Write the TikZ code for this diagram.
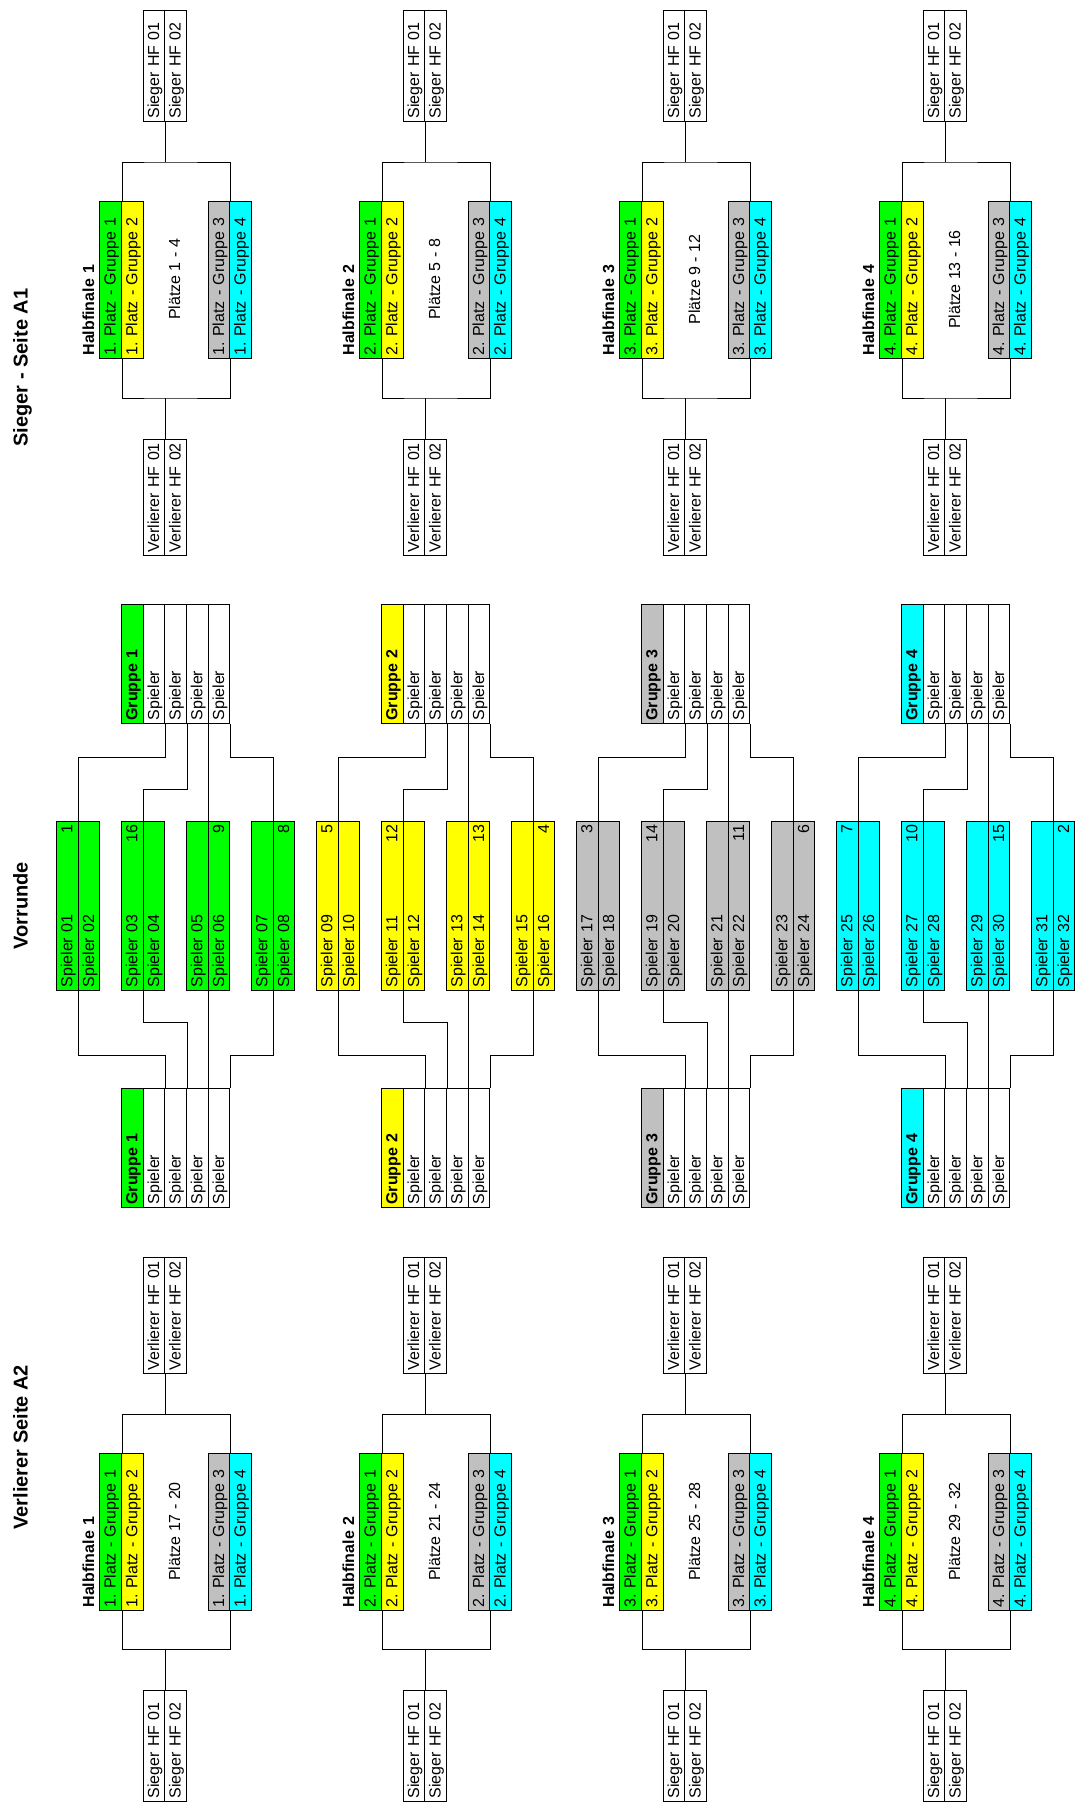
\documentclass[tikz,border=0pt]{standalone}
\usepackage{fontspec}
\setmainfont{Liberation Sans}
\usepackage{tikz}
\definecolor{grp1}{HTML}{00FF00}
\definecolor{grp2}{HTML}{FFFF00}
\definecolor{grp3}{HTML}{C0C0C0}
\definecolor{grp4}{HTML}{00FFFF}
\frenchspacing
\newcommand\cellfont{\fontsize{16}{18}\selectfont\frenchspacing}
\newcommand\titlefont{\fontsize{20}{24}\selectfont\bfseries}
\newcommand\spname[1]{Spieler \ifnum#1<10 0\fi#1}
\newcommand\seedfill{\hspace{0pt plus 1filll}}

\tikzset{
  box/.style={draw, rotate=90, anchor=north east, inner xsep=3pt, inner ysep=0pt,
    minimum height=21.6667pt, align=left, text height=12pt, text depth=2pt, font=\cellfont},
  cellbox/.style 2 args={box, minimum width=#1, text width=#2},
  hfbox/.style={box, minimum width=157pt, text width=151pt},
  hflabel/.style={hfbox, draw=none, font=\cellfont\bfseries},
  grpbox/.style={box, minimum width=119pt, text width=113pt},
  mbox/.style={box, minimum width=169pt, text width=163pt},
  plaetze/.style={rotate=90, inner sep=0pt, text height=12pt, text depth=2pt, font=\cellfont},
  title/.style={rotate=90, anchor=base west, inner sep=0pt, font=\titlefont}
}

\begin{document}
\frenchspacing
\begin{tikzpicture}[x=21.6667pt, y=-1pt, line width=1pt]
\useasboundingbox (-0.5846,0) rectangle (49.3077,1809);
\node[title] (tA) at (0.69,447) {Sieger - Seite A1};
\node[title] (tV) at (0.69,950) {Vorrunde};
\node[title] (tB) at (0.69,1530) {Verlierer Seite A2};

\foreach \hs/\yu/\yc/\yl/\nup/\nlo/\lenu/\lenl/\pof in
  {A/10/201/439/Sieger/Verlierer/111/116/0, B/1257/1453/1690/Verlierer/Sieger/116/111/16} {
  \foreach \g in {1,...,4} {
    \pgfmathtruncatemacro\gx{12*(\g-1)}
    \pgfmathtruncatemacro\pla{\pof+4*\g-3}
    \pgfmathtruncatemacro\plb{\pof+4*\g}
    \pgfmathsetmacro\tu{\lenu-6}
    \pgfmathsetmacro\tl{\lenl-6}
    \node[cellbox={\lenu pt}{\tu pt}] (H\hs\g-u1) at (\gx+6,\yu) {\nup{} HF 01};
    \node[cellbox={\lenu pt}{\tu pt}] (H\hs\g-u2) at (\gx+7,\yu) {\nup{} HF 02};
    \node[hflabel] (H\hs\g-lab) at (\gx+3,\yc) {Halbfinale \g};
    \node[hfbox, fill=grp1] (H\hs\g-c1) at (\gx+4,\yc) {\g. Platz - Gruppe 1};
    \node[hfbox, fill=grp2] (H\hs\g-c2) at (\gx+5,\yc) {\g. Platz - Gruppe 2};
    \node[hfbox, fill=grp3] (H\hs\g-c3) at (\gx+9,\yc) {\g. Platz - Gruppe 3};
    \node[hfbox, fill=grp4] (H\hs\g-c4) at (\gx+10,\yc) {\g. Platz - Gruppe 4};
    \node[plaetze] (H\hs\g-pl) at (\gx+7.5,\yc+78.5) {Plätze \pla{} - \plb};
    \node[cellbox={\lenl pt}{\tl pt}] (H\hs\g-l1) at (\gx+6,\yl) {\nlo{} HF 01};
    \node[cellbox={\lenl pt}{\tl pt}] (H\hs\g-l2) at (\gx+7,\yl) {\nlo{} HF 02};
    \draw (H\hs\g-u1.south west) -- ++(0,40) coordinate (H\hs\g-jt);
    \draw (H\hs\g-c1.south east) |- (H\hs\g-jt) -| (H\hs\g-c3.south east);
    \draw (H\hs\g-l1.south east) -- ++(0,-41) coordinate (H\hs\g-jb);
    \draw (H\hs\g-c1.south west) |- (H\hs\g-jb) -| (H\hs\g-c3.south west);
  }
}

\foreach \g/\qa/\qb/\qc/\qd in {1/1/16/9/8, 2/5/12/13/4, 3/3/14/11/6, 4/7/10/15/2} {
  \pgfmathtruncatemacro\gx{12*(\g-1)}
  \foreach \gr/\gy in {T/604, B/1088} {
    \node[grpbox, fill=grp\g, font=\cellfont\bfseries] (G\gr\g-0) at (\gx+5,\gy) {Gruppe \g};
    \foreach \s in {1,...,4}
      \node[grpbox] (G\gr\g-\s) at (\gx+5+\s,\gy) {Spieler};
  }
  \foreach \m/\seed/\side in {1/\qa/1, 2/\qb/1, 3/\qc/2, 4/\qd/2} {
    \pgfmathtruncatemacro\mc{\gx+3*\m-1}
    \pgfmathtruncatemacro\pa{8*(\g-1)+2*\m-1}
    \pgfmathtruncatemacro\pb{\pa+1}
    \ifnum\side=1 \edef\xa{\seed}\def\xb{}\else\def\xa{}\edef\xb{\seed}\fi
    \node[mbox, fill=grp\g] (M\g-\m a) at (\mc,821) {\spname{\pa}\seedfill\xa};
    \node[mbox, fill=grp\g] (M\g-\m b) at (\mc+1,821) {\spname{\pb}\seedfill\xb};
  }
  \draw (GT\g-1.south west) -- ++(0,33) -| (M\g-1a.south east);
  \draw (GT\g-2.south west) -- ++(0,65.7) -| (M\g-2a.south east);
  \draw (GT\g-3.south west) -- (M\g-3a.south east);
  \draw (GT\g-4.south west) -- ++(0,33) -| (M\g-4a.south east);
  \draw (GB\g-1.south east) -- ++(0,-33) -| (M\g-1a.south west);
  \draw (GB\g-2.south east) -- ++(0,-65.7) -| (M\g-2a.south west);
  \draw (GB\g-3.south east) -- (M\g-3a.south west);
  \draw (GB\g-4.south east) -- ++(0,-33) -| (M\g-4a.south west);
}
\end{tikzpicture}
\end{document}
